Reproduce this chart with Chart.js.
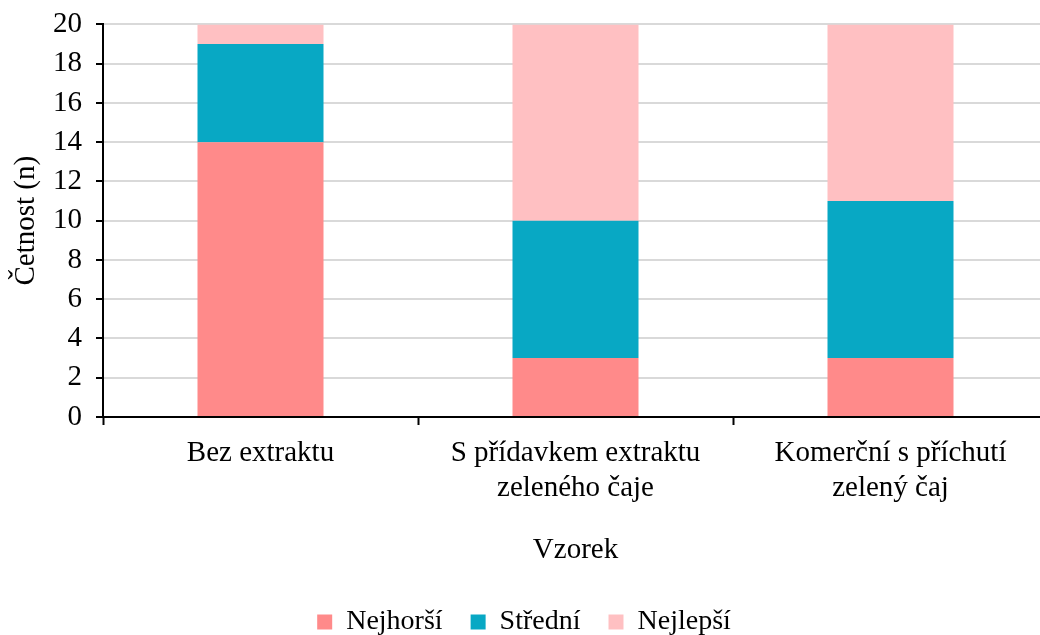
<!DOCTYPE html>
<html>
<head>
<meta charset="utf-8">
<script src="https://cdn.jsdelivr.net/npm/chart.js"></script>
<style>
    html, body { margin: 0; padding: 0; background: #fff; overflow: hidden; }
    #wrap { width: 1050px; height: 653px; position: relative; margin-top: -7px; }
</style>
</head>
<body>
<div id="wrap"><canvas id="chart"></canvas></div>
<script>
const categories = [
    ['Bez extraktu'],
    ['S přídavkem extraktu', 'zeleného čaje'],
    ['Komerční s příchutí', 'zelený čaj']
];
const worst = [14, 3, 3];
const middle = [5, 7, 8];
const best = [1, 10, 9];
const yTicks = { min: 0, max: 20, step: 2 };

const serif = '"Liberation Serif", "Times New Roman", serif';
Chart.defaults.font.family = serif;
Chart.defaults.color = '#000';

new Chart(document.getElementById('chart'), {
    type: 'bar',
    data: {
        labels: categories,
        datasets: [
            { label: 'Nejhorší', data: worst, backgroundColor: '#FF8A8A' },
            { label: 'Střední', data: middle, backgroundColor: '#08A8C4' },
            { label: 'Nejlepší', data: best, backgroundColor: '#FFC0C2' }
        ]
    },
    options: {
        responsive: true,
        maintainAspectRatio: false,
        animation: false,
        layout: { padding: { left: 0, right: 2, top: 0, bottom: 0 } },
        datasets: { bar: { barPercentage: 0.4, categoryPercentage: 1 } },
        scales: {
            x: {
                stacked: true,
                grid: { offset: true, drawOnChartArea: false, tickLength: 8, tickColor: '#000', tickWidth: 2 },
                border: { color: '#000', width: 2 },
                ticks: { font: { size: 29 }, padding: 11, maxRotation: 0 },
                title: { display: true, text: 'Vzorek', font: { size: 29 }, padding: { top: 16, bottom: 12 } },
                afterFit: (scale) => { scale.height = 163; }
            },
            y: {
                stacked: true,
                min: yTicks.min,
                max: yTicks.max,
                grid: { color: '#d9d9d9', lineWidth: 2, tickLength: 7, tickColor: '#000', tickWidth: 2 },
                border: { color: '#000', width: 2 },
                ticks: { stepSize: yTicks.step, font: { size: 29 }, padding: 14 },
                title: { display: true, text: 'Četnost (n)', font: { size: 29 }, padding: { top: 9, bottom: 0 } },
                afterFit: (scale) => { scale.width = 103; }
            }
        },
        plugins: {
            legend: {
                position: 'bottom',
                labels: { font: { size: 28 }, boxWidth: 15, boxHeight: 15, padding: 28 }
            },
            tooltip: { enabled: false }
        }
    }
});
</script>
</body>
</html>
